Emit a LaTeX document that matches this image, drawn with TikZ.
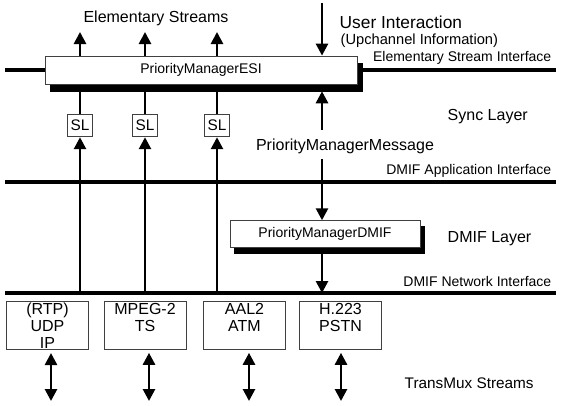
\documentclass[tikz,border=0pt]{standalone}
\usepackage{fontspec}
\setmainfont{Liberation Sans}
\usetikzlibrary{arrows.meta}
\usetikzlibrary{positioning}

\tikzset{
  bus/.style={line width=3.2pt},
  link/.style={line width=2pt},
  flow/.style={line width=2pt, -{Triangle[length=9pt,width=9pt]}},
  twoway/.style={line width=2pt, {Triangle[length=9pt,width=9pt]}-{Triangle[length=9pt,width=9pt]}},
  manager/.style={draw=black!75, line width=0.6pt, fill=white, inner sep=0pt,
    font=\fontsize{10.5}{12}\selectfont},
  dropblock/.style={draw=black, fill=black, inner sep=0pt},
  slbox/.style={draw=black!75, line width=0.6pt, fill=white, inner sep=0pt,
    minimum width=18.5pt, minimum height=17pt, font=\fontsize{11.5}{12}\selectfont},
  muxbox/.style={draw=black!75, line width=0.6pt, fill=white, inner xsep=0pt, inner ysep=1pt,
    minimum width=61.5pt, minimum height=35pt, align=center,
    font=\fontsize{12}{12.75}\selectfont},
  biglabel/.style={font=\fontsize{12}{14}\selectfont},
  iflabel/.style={font=\fontsize{10.5}{12}\selectfont, anchor=east},
}

\begin{document}
\begin{tikzpicture}[x=0.75pt, y=-0.75pt]
  \useasboundingbox (0,0) rectangle (561,405);

  % interfaces
  \coordinate (esiL) at (5,70);   \coordinate (esiR) at (556,70);
  \coordinate (appL) at (5,182);  \coordinate (appR) at (556,182);
  \coordinate (netL) at (5,293);  \coordinate (netR) at (556,293);
  \draw[bus] (esiL) -- (esiR);
  \draw[bus] (appL) -- (appR);
  \draw[bus] (netL) -- (netR);

  \node[iflabel] (esiIf) at (556,58) {Elementary Stream Interface};
  \node[iflabel] (appIf) at (556,171) {DMIF Application Interface};
  \node[iflabel] (netIf) at (556,281) {DMIF Network Interface};

  % priority managers over their shadows
  \node[dropblock, minimum width=234pt, minimum height=21pt] (esiShade) at (206,77) {};
  \node[dropblock, minimum width=142.5pt, minimum height=20pt] (dmifShade) at (329,240) {};
  \node[manager, minimum width=234pt, minimum height=21pt] (esi) at (201,70) {PriorityManagerESI};
  \node[manager, minimum width=142.5pt, minimum height=20pt] (dmif) at (325,234) {PriorityManagerDMIF};

  % elementary streams
  \node[biglabel] (es) at (156,18) {Elementary Streams};
  \coordinate (es1) at (80,32);
  \coordinate (es2) at (145,32);
  \coordinate (es3) at (217,32);
  \draw[flow] (es1 |- esi.north) -- (es1);
  \draw[flow] (es2 |- esi.north) -- (es2);
  \draw[flow] (es3 |- esi.north) -- (es3);

  % user interaction
  \coordinate (ui) at (322,3);
  \node[biglabel, font=\fontsize{13}{15}\selectfont, anchor=west] (user) at (335,22) {User Interaction};
  \node[anchor=west, font=\fontsize{11}{13}\selectfont] (upch) at (336,41) {(Upchannel Information)};
  \draw[flow] (ui) -- (ui |- esi.north);

  % sync layer
  \node[slbox] (sl1) at (80,125.5) {SL};
  \node[slbox] (sl2) at (145,125.5) {SL};
  \node[slbox] (sl3) at (217,125.5) {SL};
  \draw[link] (sl1.north) -- (sl1 |- esiShade.south);
  \draw[link] (sl2.north) -- (sl2 |- esiShade.south);
  \draw[link] (sl3.north) -- (sl3 |- esiShade.south);
  \draw[flow] (sl1 |- netL) -- (sl1.south);
  \draw[flow] (sl2 |- netL) -- (sl2.south);
  \draw[flow] (sl3 |- netL) -- (sl3.south);
  \node[biglabel, anchor=west] (sync) at (443,117) {Sync Layer};

  % priority manager message
  \node[biglabel] (msg) at (345,146) {PriorityManagerMessage};
  \coordinate (msgUp) at (322,130);
  \draw[flow] (msgUp) -- (msgUp |- esiShade.south);
  \coordinate (msgDown) at (322,159);
  \draw[flow] (msgDown) -- (msgDown |- dmif.north);

  % dmif layer
  \node[biglabel, anchor=west] (dmifLayer) at (443,239) {DMIF Layer};
  \draw[flow] (msgDown |- dmifShade.south) -- (msgDown |- netL);

  % transmux
  \node[muxbox] (mux1) at (47.5,325.5) {(RTP)\\UDP\\IP};
  \node[muxbox] (mux2) at (145,325.5) {MPEG-2\\TS\\~};
  \node[muxbox] (mux3) at (244.5,325.5) {AAL2\\ATM\\~};
  \node[muxbox] (mux4) at (340.5,325.5) {H.223\\PSTN\\~};
  \coordinate (tm1) at (51,401);
  \coordinate (tm2) at (149,401);
  \coordinate (tm3) at (249,401);
  \coordinate (tm4) at (341,401);
  \draw[twoway] (tm1 |- mux1.south) ++(0,3) -- (tm1);
  \draw[twoway] (tm2 |- mux2.south) ++(0,3) -- (tm2);
  \draw[twoway] (tm3 |- mux3.south) ++(0,3) -- (tm3);
  \draw[twoway] (tm4 |- mux4.south) ++(0,3) -- (tm4);
  \node[anchor=west, font=\fontsize{11.5}{13}\selectfont] (tms) at (400,383) {TransMux Streams};
\end{tikzpicture}
\end{document}
